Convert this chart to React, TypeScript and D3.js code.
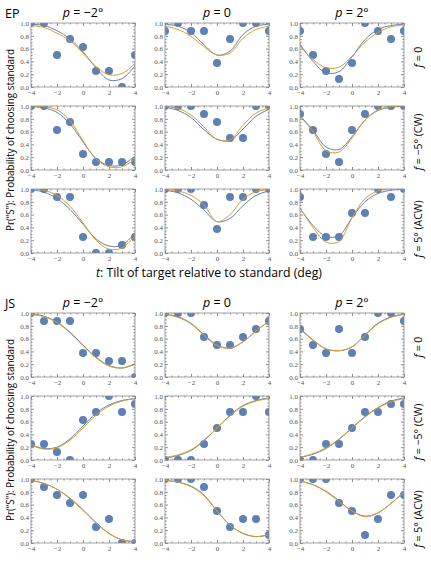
import React, { useEffect, useRef } from "react";
import * as d3 from "d3";

// Target tilt (deg) at which each proportion was measured and each fit sampled
const tilts = [-4, -3, -2, -1, 0, 1, 2, 3, 4];
const xTicks = [-4, -2, 0, 2, 4];
const yTicks = [0, 0.2, 0.4, 0.6, 0.8, 1.0];
const pValues = ["−2°", "0", "2°"];
const fValues = ["0", "−5° (CW)", "5° (ACW)"];

// Observer EP: proportion "S" per column (p = −2°, 0, 2°)
const epF0Dots = [
  [1, 1, 0.5, 0.75, 0.625, 0.25, 0.25, 0, 0.5],
  [0.875, 1, 0.875, 0.875, 0.375, 0.75, 1, 1, 0.875],
  [0.875, 0.5, 0.25, 0.125, 0.375, 1, 0.875, 0.75, 0.875],
];
const epCwDots = [
  [1, 1, 0.625, 0.75, 0.25, 0.125, 0.125, 0.125, 0.125],
  [1, 1, 1, 0.875, 0.75, 0.5, 0.5, 1, 1],
  [0.875, 0.625, 0.25, 0.125, 0.625, 0.875, 1, 1, 1],
];
const epAcwDots = [
  [1, 1, 0.875, 0.875, 0.25, 0, 0, 0.125, 0.25],
  [1, 1, 1, 0.75, 0.375, 0.875, 0.875, 1, 1],
  [0.875, 0.25, 0.25, 0.25, 0.625, 0.625, 1, 0.875, 1],
];

// EP model fits (blue and orange models)
const epF0Blue = [
  [0.98, 0.96, 0.88, 0.75, 0.55, 0.3, 0.11, 0.13, 0.33],
  [0.98, 0.95, 0.85, 0.66, 0.5, 0.56, 0.82, 0.95, 0.98],
  [0.67, 0.4, 0.22, 0.24, 0.47, 0.74, 0.9, 0.96, 0.98],
];
const epF0Orange = [
  [0.96, 0.93, 0.84, 0.72, 0.53, 0.32, 0.19, 0.21, 0.37],
  [0.95, 0.9, 0.79, 0.63, 0.5, 0.53, 0.76, 0.9, 0.95],
  [0.64, 0.43, 0.3, 0.31, 0.48, 0.7, 0.85, 0.94, 0.97],
];
const epCwBlue = [
  [0.99, 0.97, 0.9, 0.72, 0.44, 0.18, 0.07, 0.08, 0.22],
  [0.98, 0.93, 0.82, 0.63, 0.48, 0.46, 0.64, 0.84, 0.95],
  [0.85, 0.62, 0.36, 0.32, 0.52, 0.78, 0.93, 0.98, 1],
];
const epCwOrange = [
  [1, 0.99, 0.94, 0.77, 0.46, 0.17, 0.05, 0.05, 0.17],
  [0.99, 0.96, 0.86, 0.67, 0.48, 0.47, 0.7, 0.89, 0.97],
  [0.84, 0.6, 0.3, 0.28, 0.5, 0.78, 0.94, 0.99, 1],
];
const epAcwBlue = [
  [0.99, 0.95, 0.85, 0.68, 0.45, 0.22, 0.11, 0.12, 0.32],
  [0.98, 0.94, 0.84, 0.67, 0.49, 0.54, 0.74, 0.9, 0.97],
  [0.7, 0.43, 0.26, 0.27, 0.55, 0.8, 0.93, 0.98, 1],
];
const epAcwOrange = [
  [1, 0.98, 0.9, 0.73, 0.47, 0.2, 0.06, 0.08, 0.27],
  [0.99, 0.97, 0.9, 0.75, 0.49, 0.6, 0.84, 0.96, 0.99],
  [0.7, 0.4, 0.17, 0.18, 0.55, 0.85, 0.97, 1, 1],
];

// Observer JS
const jsF0Dots = [
  [1, 0.875, 0.875, 0.875, 0.375, 0.375, 0.25, 0.25, 0],
  [1, 1, 1, 0.625, 0.5, 0.5, 0.625, 0.75, 0.875],
  [0.75, 0.5, 0.375, 0.75, 0.375, 0.625, 1, 1, 0.875],
];
const jsCwDots = [
  [0.25, 0.25, 0.125, 0, 0.625, 0.75, 1, 0.75, 0.875],
  [0, 0, 0, 0.25, 0.5, 0.75, 0.75, 1, 0.75],
  [0, 0, 0.25, 0.25, 0.5, 0.75, 0.75, 0.875, 0.875],
];
const jsAcwDots = [
  [1, 0.875, 0.75, 0.625, 0.75, 0.25, 0.375, 0, 0],
  [1, 1, 1, 0.875, 0.5, 0.25, 0.375, 0.375, 0.125],
  [1, 1, 1, 0.625, 0.5, 0.125, 0.375, 0.75, 0.75],
];

const jsF0Blue = [
  [0.99, 0.95, 0.86, 0.7, 0.5, 0.31, 0.18, 0.14, 0.2],
  [0.98, 0.94, 0.84, 0.66, 0.5, 0.45, 0.55, 0.72, 0.87],
  [0.76, 0.58, 0.44, 0.41, 0.47, 0.66, 0.84, 0.94, 0.98],
];
const jsF0Orange = [
  [0.98, 0.94, 0.85, 0.69, 0.49, 0.3, 0.17, 0.14, 0.21],
  [0.98, 0.93, 0.83, 0.65, 0.49, 0.45, 0.55, 0.72, 0.87],
  [0.75, 0.57, 0.44, 0.41, 0.47, 0.65, 0.83, 0.93, 0.98],
];
const jsCwBlue = [
  [0.24, 0.18, 0.2, 0.33, 0.53, 0.73, 0.86, 0.93, 0.96],
  [0.03, 0.07, 0.15, 0.3, 0.5, 0.7, 0.85, 0.93, 0.97],
  [0.04, 0.09, 0.18, 0.32, 0.5, 0.68, 0.82, 0.92, 0.97],
];
const jsCwOrange = [
  [0.23, 0.17, 0.19, 0.31, 0.5, 0.7, 0.84, 0.92, 0.96],
  [0.04, 0.08, 0.16, 0.31, 0.5, 0.69, 0.84, 0.92, 0.96],
  [0.04, 0.1, 0.19, 0.33, 0.5, 0.67, 0.81, 0.91, 0.96],
];
const jsAcwBlue = [
  [0.98, 0.93, 0.84, 0.7, 0.52, 0.32, 0.15, 0.05, 0.02],
  [0.98, 0.95, 0.89, 0.75, 0.5, 0.28, 0.15, 0.1, 0.13],
  [0.97, 0.91, 0.81, 0.66, 0.5, 0.42, 0.47, 0.62, 0.8],
];
const jsAcwOrange = [
  [0.98, 0.93, 0.84, 0.69, 0.51, 0.31, 0.15, 0.05, 0.02],
  [0.98, 0.95, 0.88, 0.74, 0.5, 0.28, 0.15, 0.1, 0.13],
  [0.97, 0.91, 0.8, 0.65, 0.5, 0.41, 0.47, 0.62, 0.79],
];

const observers = [
  {
    name: "EP",
    top: 0,
    xTitle: true,
    dots: [epF0Dots, epCwDots, epAcwDots],
    blue: [epF0Blue, epCwBlue, epAcwBlue],
    orange: [epF0Orange, epCwOrange, epAcwOrange],
  },
  {
    name: "JS",
    top: 290,
    xTitle: false, // falls below the bottom edge
    dots: [jsF0Dots, jsCwDots, jsAcwDots],
    blue: [jsF0Blue, jsCwBlue, jsAcwBlue],
    orange: [jsF0Orange, jsCwOrange, jsAcwOrange],
  },
];

/** Layout */
const colX = [31, 165, 300];
const rowY = [23, 106, 189];
const panelW = 104;
const panelH = 64;

const dotColor = "#5E81B5";
const blueColor = "#5E81B5";
const orangeColor = "#E19C24";
const frameColor = "#8c8c8c";
const sansFont = "'Open Sans', 'Noto Sans', sans-serif";

function drawPanel(g, defs, id, dots, blue, orange) {
  const x = d3.scaleLinear().domain([-4, 4]).range([0, panelW]);
  const y = d3.scaleLinear().domain([0, 1]).range([panelH, 0]);

  defs
    .append("clipPath")
    .attr("id", id)
    .append("rect")
    .attr("width", panelW)
    .attr("height", panelH);

  const plot = g.append("g").attr("clip-path", `url(#${id})`);

  plot
    .selectAll("circle")
    .data(tilts.map((t, i) => ({ t, v: dots[i] })))
    .join("circle")
    .attr("cx", (d) => x(d.t))
    .attr("cy", (d) => y(d.v))
    .attr("r", 4)
    .attr("fill", dotColor);

  const line = d3
    .line<number>()
    .x((_, i) => x(tilts[i]))
    .y((v) => y(v))
    .curve(d3.curveCatmullRom.alpha(0.5));

  plot
    .append("path")
    .attr("d", line(blue))
    .attr("fill", "none")
    .attr("stroke", blueColor)
    .attr("stroke-width", 1);
  plot
    .append("path")
    .attr("d", line(orange))
    .attr("fill", "none")
    .attr("stroke", orangeColor)
    .attr("stroke-width", 1);

  // Frame with inward major and minor ticks on all four sides
  const xMinor = d3.range(-4, 4.001, 0.5).filter((v) => !xTicks.includes(v));
  const yMinor = d3.range(0, 1.001, 0.05).filter((v) => Math.round(v * 100) % 20 !== 0);

  const sides = [
    { axis: d3.axisBottom(x), tr: `translate(0,${panelH})`, major: xTicks, minor: xMinor, labels: true },
    { axis: d3.axisTop(x), tr: "translate(0,0)", major: xTicks, minor: xMinor, labels: false },
    { axis: d3.axisLeft(y), tr: "translate(0,0)", major: yTicks, minor: yMinor, labels: true },
    { axis: d3.axisRight(y), tr: `translate(${panelW},0)`, major: yTicks, minor: yMinor, labels: false },
  ];

  sides.forEach((s, k) => {
    const isX = k < 2;
    const major = g
      .append("g")
      .attr("transform", s.tr)
      .attr("color", frameColor)
      .call(
        s.axis
          .tickValues(s.major)
          .tickSize(-3)
          .tickPadding(isX ? 3.5 : 2)
          .tickFormat(s.labels ? (isX ? d3.format("d") : d3.format(".1f")) : () => "")
      );
    major.select(".domain").remove();
    major
      .selectAll("text")
      .attr("fill", "#555")
      .attr("font-family", "'Liberation Serif', 'DejaVu Serif', serif")
      .attr("font-size", 7);

    const minor = g
      .append("g")
      .attr("transform", s.tr)
      .attr("color", frameColor)
      .call(s.axis.tickValues(s.minor).tickSize(-1.5).tickFormat(() => ""));
    minor.select(".domain").remove();
  });

  g.append("rect")
    .attr("width", panelW)
    .attr("height", panelH)
    .attr("fill", "none")
    .attr("stroke", frameColor)
    .attr("stroke-width", 0.8);
}

function drawChart(node) {
  const svg = d3.select(node);
  svg.selectAll("*").remove();
  const defs = svg.append("defs");

  observers.forEach((obs) => {
    const top = obs.top;

    svg
      .append("text")
      .attr("x", 5)
      .attr("y", top + 17.5)
      .attr("font-family", sansFont)
      .attr("font-size", 12.5)
      .text(obs.name);

    // Column headings
    pValues.forEach((pv, c) => {
      const t = svg
        .append("text")
        .attr("x", colX[c] + panelW / 2)
        .attr("y", top + 16.5)
        .attr("text-anchor", "middle")
        .attr("font-family", sansFont)
        .attr("font-size", 12.5);
      t.append("tspan").attr("font-style", "italic").text("p");
      t.append("tspan").text(` = ${pv}`);
    });

    // Row headings, rotated on the right
    const rowShift = [2, 4, 8];
    fValues.forEach((fv, r) => {
      const cy = top + rowY[r] + panelH / 2 + rowShift[r];
      const t = svg
        .append("text")
        .attr("transform", `translate(422,${cy}) rotate(-90)`)
        .attr("text-anchor", "middle")
        .attr("font-family", sansFont)
        .attr("font-size", 10.5);
      t.append("tspan").attr("font-style", "italic").text("f");
      t.append("tspan").text(` = ${fv}`);
    });

    // Shared y label
    svg
      .append("text")
      .attr("transform", `translate(14,${top + 140}) rotate(-90)`)
      .attr("text-anchor", "middle")
      .attr("font-family", sansFont)
      .attr("font-size", 10.5)
      .attr("textLength", 182)
      .attr("lengthAdjust", "spacingAndGlyphs")
      .text("Pr(“S”): Probability of choosing standard");

    // Shared x label
    if (obs.xTitle) {
      const xl = svg
        .append("text")
        .attr("x", 96)
        .attr("y", top + 277)
        .attr("font-family", sansFont)
        .attr("font-size", 12)
        .attr("textLength", 226)
        .attr("lengthAdjust", "spacingAndGlyphs");
      xl.append("tspan").attr("font-style", "italic").text("t");
      xl.append("tspan").text(": Tilt of target relative to standard (deg)");
    }

    for (let r = 0; r < 3; r++) {
      for (let c = 0; c < 3; c++) {
        const g = svg
          .append("g")
          .attr("transform", `translate(${colX[c]},${top + rowY[r]})`);
        drawPanel(
          g,
          defs,
          `clip-${obs.name}-${r}-${c}`,
          obs.dots[r][c],
          obs.blue[r][c],
          obs.orange[r][c]
        );
      }
    }
  });
}

export default function App() {
  const ref = useRef<SVGSVGElement>(null);

  useEffect(() => {
    drawChart(ref.current);
  }, []);

  return (
    <svg
      ref={ref}
      width={431}
      height={562}
      style={{ position: "absolute", left: 0, top: 0, background: "#fff" }}
    />
  );
}
